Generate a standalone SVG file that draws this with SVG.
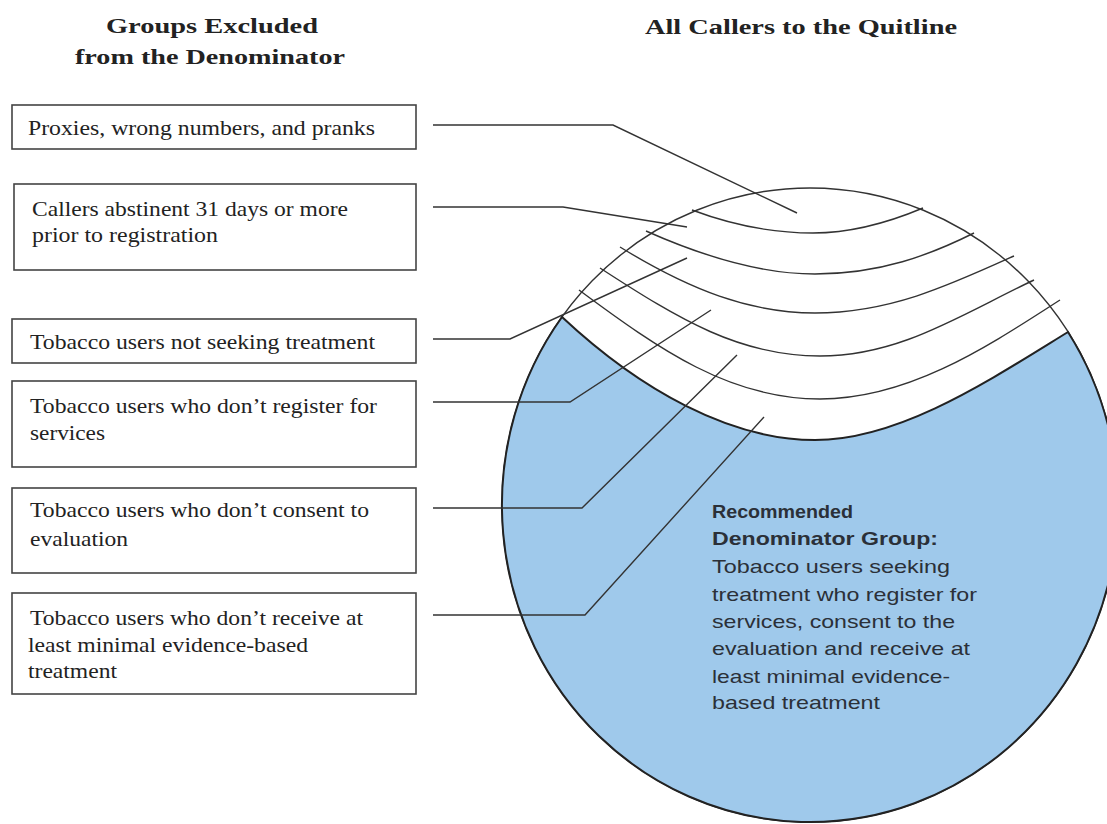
<svg xmlns="http://www.w3.org/2000/svg" width="1107" height="824" viewBox="0 0 1107 824">
<style>
.box{fill:#fff;stroke:#444;stroke-width:1.6}
.bt{font-family:"Liberation Serif","Times New Roman",serif;font-size:22px;fill:#222}
.hd{font-family:"Liberation Serif","Times New Roman",serif;font-size:22px;font-weight:bold;fill:#222;text-anchor:middle}
.con{fill:none;stroke:#333;stroke-width:1.4}
.wave{fill:none;stroke:#333;stroke-width:1.4}
.st{font-family:"Liberation Sans",Arial,sans-serif;font-size:19px;fill:#2b3038}
.sb{font-weight:bold}
</style>
<rect width="1107" height="824" fill="#fff"/>
<g id="headers">
<text class="hd" x="212" y="33" textLength="212" lengthAdjust="spacingAndGlyphs">Groups Excluded</text>
<text class="hd" x="210" y="64" textLength="270" lengthAdjust="spacingAndGlyphs">from the Denominator</text>
<text class="hd" x="801" y="34" textLength="312" lengthAdjust="spacingAndGlyphs">All Callers to the Quitline</text>
</g>
<g id="circle">
<ellipse cx="810" cy="505" rx="308" ry="317" fill="#fff" stroke="#333" stroke-width="1.4"/>
<path id="blue-region" d="M562,317 A308,317 0 1 0 1068,332 C990,380 900,440 815,440 C730,440 640,390 562,317 Z" fill="#9fc9eb" stroke="#222" stroke-width="2"/>
<path class="wave" d="M692,210 C740,228 780,233 813,233 C850,233 885,224 923,208"/>
<path class="wave" d="M646,231 C700,255 760,274 815,274 C880,274 930,255 974,233"/>
<path class="wave" d="M620,247 C690,290 750,313 815,313 C890,313 950,285 1014,256"/>
<path class="wave" d="M600,268 C680,320 740,356 820,356 C900,356 960,315 1034,280"/>
<path class="wave" d="M579,290 C660,350 730,399 820,399 C910,399 990,345 1060,300"/>
</g>
<g id="connectors">
<path class="con" d="M433,125 H613 L797,213"/>
<path class="con" d="M433,207 H563 L687,227"/>
<path class="con" d="M433,339 H510 L687,258"/>
<path class="con" d="M433,402 H570 L711,310"/>
<path class="con" d="M433,508 H582 L737,355"/>
<path class="con" d="M433,615 H585 L764,417"/>
</g>
<g id="box1">
<rect class="box" x="12" y="105" width="404" height="44"/>
<text class="bt" x="28" y="135" textLength="347" lengthAdjust="spacingAndGlyphs">Proxies, wrong numbers, and pranks</text>
</g>
<g id="box2">
<rect class="box" x="14" y="184" width="402" height="86"/>
<text class="bt" x="32" y="216" textLength="316" lengthAdjust="spacingAndGlyphs">Callers abstinent 31 days or more</text>
<text class="bt" x="32" y="242" textLength="186" lengthAdjust="spacingAndGlyphs">prior to registration</text>
</g>
<g id="box3">
<rect class="box" x="12" y="319" width="404" height="44"/>
<text class="bt" x="30" y="349" textLength="345" lengthAdjust="spacingAndGlyphs">Tobacco users not seeking treatment</text>
</g>
<g id="box4">
<rect class="box" x="12" y="381" width="404" height="86"/>
<text class="bt" x="30" y="413" textLength="347" lengthAdjust="spacingAndGlyphs">Tobacco users who don’t register for</text>
<text class="bt" x="30" y="440" textLength="75" lengthAdjust="spacingAndGlyphs">services</text>
</g>
<g id="box5">
<rect class="box" x="12" y="488" width="404" height="85"/>
<text class="bt" x="30" y="517" textLength="339" lengthAdjust="spacingAndGlyphs">Tobacco users who don’t consent to</text>
<text class="bt" x="30" y="546" textLength="98" lengthAdjust="spacingAndGlyphs">evaluation</text>
</g>
<g id="box6">
<rect class="box" x="12" y="593" width="404" height="101"/>
<text class="bt" x="30" y="625" textLength="333" lengthAdjust="spacingAndGlyphs">Tobacco users who don’t receive at</text>
<text class="bt" x="28" y="652" textLength="280" lengthAdjust="spacingAndGlyphs">least minimal evidence-based</text>
<text class="bt" x="28" y="678" textLength="89" lengthAdjust="spacingAndGlyphs">treatment</text>
</g>
<g id="recommended">
<text class="st sb" x="712" y="518" textLength="141" lengthAdjust="spacingAndGlyphs">Recommended</text>
<text class="st sb" x="712" y="545" textLength="226" lengthAdjust="spacingAndGlyphs">Denominator Group:</text>
<text class="st" x="712" y="573" textLength="238" lengthAdjust="spacingAndGlyphs">Tobacco users seeking</text>
<text class="st" x="712" y="601" textLength="265" lengthAdjust="spacingAndGlyphs">treatment who register for</text>
<text class="st" x="712" y="628" textLength="243" lengthAdjust="spacingAndGlyphs">services, consent to the</text>
<text class="st" x="712" y="655" textLength="258" lengthAdjust="spacingAndGlyphs">evaluation and receive at</text>
<text class="st" x="712" y="683" textLength="238" lengthAdjust="spacingAndGlyphs">least minimal evidence-</text>
<text class="st" x="712" y="709" textLength="168" lengthAdjust="spacingAndGlyphs">based treatment</text>
</g>
</svg>
